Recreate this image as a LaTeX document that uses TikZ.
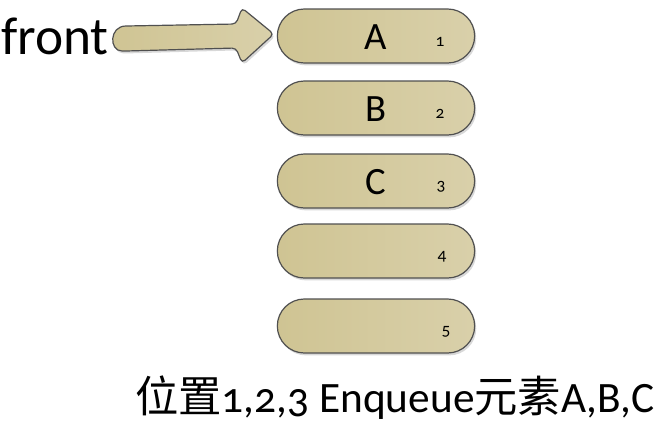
\documentclass[tikz,border=0pt]{standalone}
\usepackage{fontspec}
\setmainfont{Carlito}[Numbers=OldStyle]
\newfontfamily\cjk{Noto Sans CJK SC}
\usepackage{tikz}
\usetikzlibrary{shapes.misc,shadows,calc}
\definecolor{slot}{HTML}{CFC493}
\definecolor{slotlight}{HTML}{D9D0AA}
\definecolor{edge}{HTML}{505050}
\tikzset{
  slotbox/.style={rounded rectangle, draw=edge, line width=0.9pt,
    left color=slot, right color=slotlight, minimum width=148pt,
    minimum height=40.5pt, inner sep=0pt,
    drop shadow={shadow xshift=1.2pt, shadow yshift=-1.8pt, fill=black!30, opacity=0.5}},
  arrowbody/.style={draw=edge, line width=0.9pt, left color=slot, right color=slotlight,
    rounded corners=3pt,
    drop shadow={shadow xshift=1.2pt, shadow yshift=-1.8pt, fill=black!30, opacity=0.5}},
  elem/.style={font=\fontsize{29}{30}\selectfont, inner sep=0pt},
  posnum/.style={font=\fontsize{13}{14}\selectfont, inner sep=0pt},
  big/.style={font=\fontsize{40}{42}\selectfont, inner sep=0pt},
  caption/.style={font=\fontsize{32.5}{34}\selectfont, inner sep=0pt}
}
\begin{document}
\begin{tikzpicture}[x=0.75pt, y=-0.75pt]
  \useasboundingbox (0,0) rectangle (663,426);

  % queue slots
  \foreach \i/\y/\l/\nx in {1/36/A/440, 2/108/B/440, 3/181/C/441, 4/251//442, 5/326//446}{
    \node[slotbox] (q\i) at (376,\y) {};
    \node[elem] (l\i) at ($(q\i.center)+(0,1)$) {\l};
    \node[posnum] (n\i) at (\nx,\y+6) {\i};
  }

  % front pointer
  \node[big, anchor=base west] (front) at (1,54) {front};
  \coordinate (t1) at (126,26);
  \coordinate (t2) at (126,51);
  \draw[arrowbody] (t1) -- (236,24) -- (242,8) -- ($(q1.west)+(-3,-2)$)
    -- (242,63) -- (236,48) -- (t2) [sharp corners]
    .. controls (109,51) and (109,26) .. (t1) -- cycle;

  \node[caption, anchor=base west] (cap) at (135,412)
    {{\cjk 位置}1,2,3 Enqueue{\cjk 元素}A,B,C};
\end{tikzpicture}
\end{document}
